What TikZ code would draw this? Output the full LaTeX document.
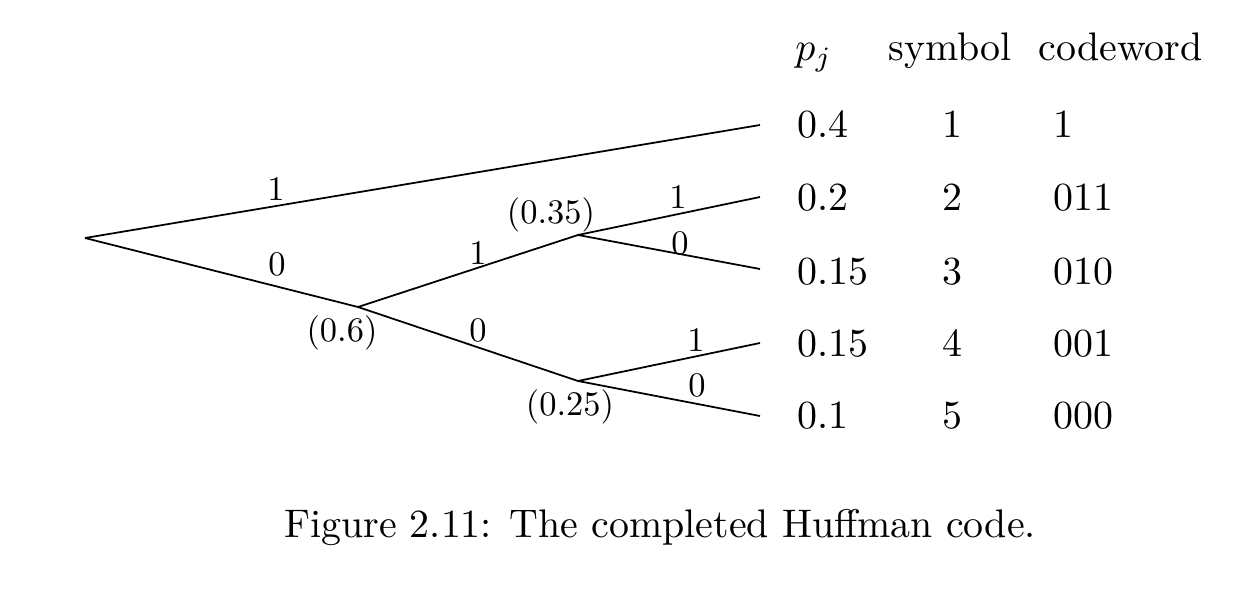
\documentclass[tikz,border=0pt]{standalone}
\newcommand\lbtxt[1]{\scalebox{1.96}{#1}}
\newcommand\tbtxt[1]{\scalebox{2.27}{#1}}
\begin{document}
\begin{tikzpicture}[x=0.02cm,y=-0.02cm,
  edge/.style={line width=1pt},
  lbl/.style={inner sep=0pt,font=\fontsize{10}{12}\selectfont},
  tab/.style={inner sep=0pt,anchor=base,font=\fontsize{10}{12}\selectfont},
  tabl/.style={tab,anchor=base west}]
\useasboundingbox (0,0) rectangle (1240,594);
% tree nodes
\coordinate (root) at (85,238);
\coordinate (n6) at (358,307);
\coordinate (n35) at (578,235);
\coordinate (n25) at (578,381);
\coordinate (l1) at (760,125);
\coordinate (l2) at (760,197);
\coordinate (l3) at (760,269);
\coordinate (l4) at (760,343);
\coordinate (l5) at (760,416);
% edges
\draw[edge] (root) -- (l1);
\draw[edge] (root) -- (n6);
\draw[edge] (n6) -- (n35);
\draw[edge] (n6) -- (n25);
\draw[edge] (n35) -- (l2);
\draw[edge] (n35) -- (l3);
\draw[edge] (n25) -- (l4);
\draw[edge] (n25) -- (l5);
% edge labels
\node[lbl] (e1) at (276,189) {\lbtxt{1}};
\node[lbl] (e0) at (277,264) {\lbtxt{0}};
\node[lbl] (p6) at (342,333) {\lbtxt{(0.6)}};
\node[lbl] (e61) at (478,253) {\lbtxt{1}};
\node[lbl] (e60) at (478,330) {\lbtxt{0}};
\node[lbl] (p35) at (551,215) {\lbtxt{(0.35)}};
\node[lbl] (p25) at (570,407) {\lbtxt{(0.25)}};
\node[lbl] (e351) at (678,197) {\lbtxt{1}};
\node[lbl] (e350) at (680,243) {\lbtxt{0}};
\node[lbl] (e251) at (696,340) {\lbtxt{1}};
\node[lbl] (e250) at (697,385) {\lbtxt{0}};
% table header
\node[tabl] (hp) at (795,61) {\tbtxt{$p_j$}};
\node[tabl] (hs) at (888,61) {\tbtxt{symbol}};
\node[tabl] (hc) at (1038,61) {\tbtxt{codeword}};
% table rows
\node[tabl] (p1) at (797,138) {\tbtxt{0.4}};
\node[tabl] (p2) at (797,211) {\tbtxt{0.2}};
\node[tabl] (p3) at (797,285) {\tbtxt{0.15}};
\node[tabl] (p4) at (797,357) {\tbtxt{0.15}};
\node[tabl] (p5) at (797,428) {\tbtxt{0.1}};
\node[tab] (s1) at (952,138) {\tbtxt{1}};
\node[tab] (s2) at (952,211) {\tbtxt{2}};
\node[tab] (s3) at (952,285) {\tbtxt{3}};
\node[tab] (s4) at (952,357) {\tbtxt{4}};
\node[tab] (s5) at (952,428) {\tbtxt{5}};
\node[tabl] (c1) at (1053,138) {\tbtxt{1}};
\node[tabl] (c2) at (1053,211) {\tbtxt{011}};
\node[tabl] (c3) at (1053,285) {\tbtxt{010}};
\node[tabl] (c4) at (1053,357) {\tbtxt{001}};
\node[tabl] (c5) at (1053,428) {\tbtxt{000}};
% caption
\node[tab] (cap) at (660,537) {\tbtxt{Figure 2.11: The completed Huffman code.}};
\end{tikzpicture}
\end{document}
